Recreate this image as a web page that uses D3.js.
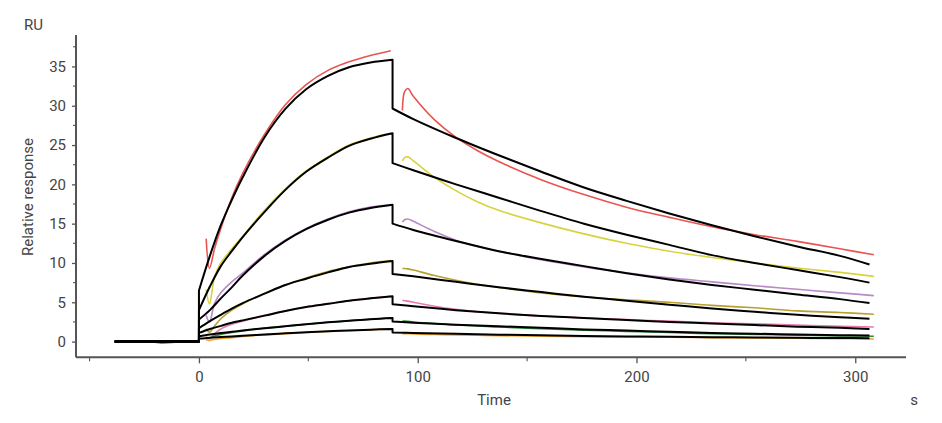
<!DOCTYPE html>
<html>
<head>
<meta charset="utf-8">
<script src="https://cdn.jsdelivr.net/npm/d3@7"></script>
<style>
  body { margin: 0; background: #fff; }
  svg text { font-family: Roboto, "Liberation Sans", sans-serif; fill: #444; }
</style>
</head>
<body>
<svg id="svgArea" width="942" height="423"></svg>
<script>
// sensorgram data (s, RU)
var seriesColors = ["#e8554e", "#d8d23c", "#b888c8", "#b8a030", "#e878b0", "#2f8a3a", "#f0a030"];

var baseTime = [-38.5, -29, -21, -17, -13.5, -9.5, -4.5, 0];
var sensorBase = [
    [0, 0, -0.05, -0.2, -0.15, -0.05, 0, 0],
    [0, 0, 0, 0, 0, 0, 0, 0],
    [0, 0, 0, 0, 0, 0, 0, 0],
    [0, 0, 0, 0, 0, 0, 0, 0],
    [0, 0, 0, 0, 0, 0, 0, 0],
    [0, 0, 0, 0, 0, 0, 0, 0],
    [0, 0, 0, 0, 0, 0, 0, 0]
];

var sensorAssocTime = [3.3, 4.8, 7.2, 10, 15, 20, 29.6, 39.4, 49, 59, 68.6, 78.4, 87.7];
var sensorAssoc = [
    [13.1, 9.3, 11.9, 14.4, 18.3, 21.4, 26.2, 30.1, 32.7, 34.5, 35.6, 36.4, 37.0],
    [6.6, 4.8, 8.3, 10.0, 11.8, 13.4, 16.6, 19.4, 21.7, 23.5, 25.0, 25.9, 26.5],
    [3.35, 2.5, 4.9, 6.2, 7.6, 8.7, 11.0, 12.9, 14.4, 15.6, 16.5, 17.1, 17.4],
    [1.65, 1.2, 2.0, 2.9, 4.0, 4.8, 6.1, 7.2, 8.1, 8.9, 9.5, 10.0, 10.3],
    [0.6, 0.4, 1.0, 1.6, 2.2, 2.6, 3.3, 3.9, 4.4, 4.8, 5.2, 5.5, 5.75],
    [0.5, 0.45, 0.7, 0.9, 1.15, 1.35, 1.7, 1.95, 2.2, 2.45, 2.65, 2.85, 3.0],
    [0.2, 0.15, 0.3, 0.4, 0.5, 0.65, 0.85, 1.0, 1.15, 1.28, 1.4, 1.5, 1.6]
];

var sensorDissocTime = [93, 94, 95.5, 98, 107.7, 117.4, 127.2, 137, 156.4, 176, 195.4, 215, 234.5, 254, 273.5, 293, 308.5];
var sensorDissoc = [
    [29.4, 31.8, 32.2, 31.2, 28.2, 26.0, 24.3, 22.9, 20.6, 18.7, 17.1, 15.8, 14.6, 13.6, 12.75, 11.8, 11.05],
    [23.0, 23.4, 23.5, 23.0, 20.9, 19.2, 17.8, 16.7, 15.1, 13.7, 12.5, 11.5, 10.7, 10.0, 9.35, 8.8, 8.3],
    [15.2, 15.5, 15.6, 15.3, 14.0, 12.9, 12.1, 11.5, 10.4, 9.5, 8.75, 8.1, 7.6, 7.1, 6.65, 6.2, 5.85],
    [9.3, 9.3, 9.25, 9.1, 8.4, 7.8, 7.3, 6.9, 6.2, 5.7, 5.3, 5.0, 4.6, 4.3, 3.9, 3.7, 3.47],
    [5.25, 5.2, 5.15, 5.0, 4.5, 4.1, 3.8, 3.6, 3.25, 3.0, 2.8, 2.6, 2.4, 2.25, 2.1, 1.95, 1.86],
    [2.6, 2.6, 2.58, 2.5, 2.3, 2.1, 2.0, 1.85, 1.65, 1.45, 1.3, 1.15, 1.0, 0.92, 0.82, 0.73, 0.67],
    [1.0, 1.0, 1.0, 0.97, 0.9, 0.85, 0.8, 0.75, 0.68, 0.62, 0.58, 0.55, 0.5, 0.46, 0.42, 0.37, 0.33]
];

// fitted 1:1 curves (black)
var fitBaseTime = [-38.5, 0];
var fitAssocTime = [0, 5, 10, 15, 20, 30, 39.5, 49, 59, 68.6, 78.4, 88.5];
var fitAssoc = [
    [6.5, 10.9, 14.8, 18.0, 20.9, 26.0, 29.6, 32.1, 33.8, 34.9, 35.5, 35.85],
    [4.0, 7.0, 9.6, 11.5, 13.3, 16.5, 19.3, 21.6, 23.4, 24.9, 25.8, 26.5],
    [2.8, 4.0, 5.5, 6.9, 8.4, 10.9, 12.8, 14.3, 15.5, 16.4, 17.0, 17.4],
    [1.7, 2.6, 3.4, 4.2, 4.9, 6.1, 7.2, 8.0, 8.8, 9.5, 9.9, 10.25],
    [1.1, 1.6, 2.0, 2.4, 2.7, 3.3, 3.9, 4.4, 4.8, 5.2, 5.5, 5.76],
    [0.67, 0.9, 1.1, 1.25, 1.4, 1.7, 1.95, 2.2, 2.45, 2.65, 2.85, 3.0],
    [0.38, 0.5, 0.58, 0.66, 0.75, 0.9, 1.05, 1.18, 1.3, 1.42, 1.52, 1.6]
];
var fitDissocTime = [88.5, 98, 117.5, 137, 156.5, 176, 195.5, 215, 234.5, 254, 273.5, 293, 306.5];
var fitDissoc = [
    [29.65, 28.3, 25.9, 23.7, 21.6, 19.6, 17.9, 16.3, 14.8, 13.4, 12.1, 10.9, 9.8],
    [22.7, 21.8, 20.0, 18.3, 16.6, 15.0, 13.6, 12.3, 11.0, 10.0, 9.1, 8.2, 7.5],
    [15.0, 14.2, 12.8, 11.5, 10.5, 9.6, 8.7, 7.9, 7.2, 6.6, 6.0, 5.4, 4.9],
    [8.6, 8.3, 7.6, 6.9, 6.3, 5.7, 5.2, 4.7, 4.2, 3.8, 3.4, 3.1, 2.9],
    [4.75, 4.5, 4.0, 3.6, 3.25, 3.0, 2.75, 2.5, 2.3, 2.1, 1.9, 1.75, 1.6],
    [2.55, 2.4, 2.15, 1.95, 1.75, 1.55, 1.4, 1.25, 1.1, 1.0, 0.9, 0.82, 0.76],
    [1.15, 1.1, 0.98, 0.88, 0.8, 0.72, 0.66, 0.6, 0.56, 0.52, 0.48, 0.45, 0.42]
];

var yTicks = [0, 5, 10, 15, 20, 25, 30, 35];
var yMinorTicks = [2.5, 7.5, 12.5, 17.5, 22.5, 27.5, 32.5, 37.5];
var xTicks = [0, 100, 200, 300];
var xMinorTicks = [-50, 50, 150, 250];

var svg = d3.select("#svgArea");
var x = d3.scaleLinear().domain([-56.2, 323.2]).range([76, 906]);
var y = d3.scaleLinear().domain([-2, 39]).range([357.3, 35]);
var axisColor = "#555";

function zip(times, values) {
    return times.map(function (t, i) { return [t, values[i]]; });
}

var smooth = d3.line()
    .x(function (d) { return x(d[0]); })
    .y(function (d) { return y(d[1]); })
    .curve(d3.curveCatmullRom.alpha(0.5));

var straight = d3.line()
    .x(function (d) { return x(d[0]); })
    .y(function (d) { return y(d[1]); });

// measured curves
seriesColors.forEach(function (color, i) {
    var path = straight(zip(baseTime, sensorBase[i])) +
        smooth(zip(sensorAssocTime, sensorAssoc[i])) +
        smooth(zip(sensorDissocTime, sensorDissoc[i]));
    svg.append("path")
        .attr("d", path)
        .attr("fill", "none")
        .attr("stroke", color)
        .attr("stroke-width", 1.6)
        .attr("stroke-linejoin", "round");
});

// fits: one joined path, straight jumps at injection start/stop
fitAssoc.forEach(function (vals, i) {
    var path = straight(zip(fitBaseTime, [0, 0])) +
        smooth(zip(fitAssocTime, vals)).replace(/^M/, "L") +
        smooth(zip(fitDissocTime, fitDissoc[i])).replace(/^M/, "L");
    svg.append("path")
        .attr("d", path)
        .attr("fill", "none")
        .attr("stroke", "#000")
        .attr("stroke-width", 2)
        .attr("stroke-linejoin", "round");
});

// y axis
var yAxis = svg.append("g").attr("transform", "translate(76,0)");
yAxis.call(d3.axisLeft(y).tickValues(yTicks).tickSize(4).tickPadding(6));
yAxis.select(".domain").remove();
yAxis.selectAll(".tick line").attr("stroke", axisColor).attr("stroke-width", 1.3);
yAxis.selectAll(".tick text").attr("font-size", 15).attr("fill", "#444");
yAxis.selectAll(".minor").data(yMinorTicks).enter().append("line")
    .attr("x1", -3).attr("x2", 0)
    .attr("y1", function (d) { return y(d); })
    .attr("y2", function (d) { return y(d); })
    .attr("stroke", axisColor).attr("stroke-width", 1.1);
yAxis.append("line")
    .attr("x1", 0).attr("x2", 0).attr("y1", 35).attr("y2", 357.3)
    .attr("stroke", axisColor).attr("stroke-width", 2);

// x axis
var xAxis = svg.append("g").attr("transform", "translate(0,357.3)");
xAxis.call(d3.axisBottom(x).tickValues(xTicks).tickSize(6).tickPadding(8));
xAxis.select(".domain").remove();
xAxis.selectAll(".tick line").attr("stroke", axisColor).attr("stroke-width", 1.3);
xAxis.selectAll(".tick text").attr("font-size", 15).attr("fill", "#444");
xAxis.selectAll(".minor").data(xMinorTicks).enter().append("line")
    .attr("x1", function (d) { return x(d); })
    .attr("x2", function (d) { return x(d); })
    .attr("y1", 0).attr("y2", 4)
    .attr("stroke", axisColor).attr("stroke-width", 1.1);
xAxis.append("line")
    .attr("x1", 76).attr("x2", 906).attr("y1", 0).attr("y2", 0)
    .attr("stroke", axisColor).attr("stroke-width", 2);

// labels
svg.append("text").text("RU")
    .attr("x", 24).attr("y", 30)
    .attr("font-size", 15);

svg.append("text").text("Relative response")
    .attr("transform", "translate(33,197) rotate(-90)")
    .attr("text-anchor", "middle")
    .attr("font-size", 15);

svg.append("text").text("Time")
    .attr("x", 494).attr("y", 405)
    .attr("text-anchor", "middle")
    .attr("font-size", 15);

svg.append("text").text("s")
    .attr("x", 914).attr("y", 405)
    .attr("text-anchor", "middle")
    .attr("font-size", 15);
</script>
</body>
</html>
